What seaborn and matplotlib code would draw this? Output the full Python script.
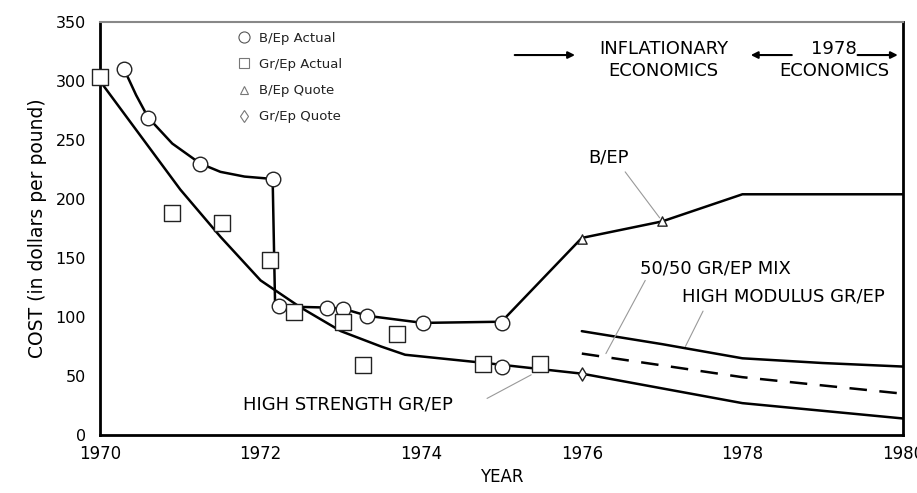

# Cost of boron/epoxy vs graphite/epoxy, 1970-1980

import numpy as np
import pandas as pd
import matplotlib
matplotlib.use("Agg")
import matplotlib.pyplot as plt
from matplotlib.lines import Line2D
import seaborn as sns

# ---- data ----
# B/Ep actual (circles)
bep_act_x = [1970.3, 1970.6, 1971.25, 1972.15, 1972.23, 1972.83, 1973.03, 1973.33, 1974.02, 1975.0, 1975.0]
bep_act_y = [310, 269, 230, 217, 109, 108, 107, 101, 95, 95, 58]
# Gr/Ep actual (squares)
grep_act_x = [1970.0, 1970.9, 1971.52, 1972.12, 1972.41, 1973.03, 1973.28, 1973.7, 1974.77, 1975.48]
grep_act_y = [303, 188, 180, 148, 104, 96, 59, 86, 60, 60]
# quotes
bep_quote_x = [1976.0, 1977.0]
bep_quote_y = [166, 181]
grep_quote_x = [1976.0]
grep_quote_y = [52]

# trend lines
bep_line_x = [1970.3, 1970.45, 1970.6, 1970.9, 1971.25, 1971.5, 1971.8, 1972.15, 1972.18, 1972.23,
              1972.83, 1973.03, 1973.33, 1974.02, 1975.0, 1976.0, 1977.0, 1978.0, 1980.0]
bep_line_y = [310, 288, 269, 247, 230, 223, 219, 217, 112, 109,
              108, 107, 101, 95, 96, 167, 181, 204, 204]
hs_line_x = [1970.0, 1970.5, 1971.0, 1971.5, 1972.0, 1972.5, 1973.0, 1973.5, 1973.8, 1974.8, 1976.0, 1978.0, 1980.0]
hs_line_y = [300, 254, 208, 168, 131, 108, 88, 75, 68, 61, 52, 27, 14]
hm_line_x = [1976.0, 1977.0, 1978.0, 1979.0, 1980.0]
hm_line_y = [88, 77, 65, 61, 58]
mix_line_x = [1976.0, 1977.0, 1978.0, 1979.0, 1980.0]
mix_line_y = [69, 59, 49, 42, 35]

legend_labels = ["B/Ep Actual", "Gr/Ep Actual", "B/Ep Quote", "Gr/Ep Quote"]

# ---- plot ----
sns.set_theme(style="white")
plt.rcParams["font.family"] = ["DejaVu Sans"]
plt.rcParams["text.color"] = "black"
plt.rcParams["axes.labelcolor"] = "black"

fig = plt.figure(figsize=(9.17, 4.93), dpi=100)
ax = fig.add_axes([100 / 917, 58 / 493, 803 / 917, 413 / 493])

lw = 1.8
sns.lineplot(x=bep_line_x, y=bep_line_y, sort=False, estimator=None, color="black", lw=lw, ax=ax)
sns.lineplot(x=hs_line_x, y=hs_line_y, sort=False, estimator=None, color="black", lw=lw, ax=ax)
sns.lineplot(x=hm_line_x, y=hm_line_y, sort=False, estimator=None, color="black", lw=lw, ax=ax)
ax.plot(mix_line_x, mix_line_y, color="black", lw=lw, dashes=(7, 5))

mk = dict(facecolor="white", edgecolor="#222222", linewidth=1.0, zorder=5, clip_on=False)
sns.scatterplot(x=bep_act_x, y=bep_act_y, marker="o", s=110, ax=ax, **mk)
sns.scatterplot(x=grep_act_x, y=grep_act_y, marker="s", s=130, ax=ax, **mk)
sns.scatterplot(x=bep_quote_x, y=bep_quote_y, marker="^", s=45, ax=ax, **mk)
sns.scatterplot(x=grep_quote_x, y=grep_quote_y, marker="d", s=45, ax=ax, **mk)

ax.set_xlim(1970, 1980)
ax.set_ylim(0, 350)
ax.set_xticks(range(1970, 1981, 2))
ax.set_yticks(range(0, 351, 50))
ax.tick_params(direction="in", length=5, width=1.2, colors="black", labelsize=12)
ax.tick_params(axis="x", pad=7)
ax.tick_params(axis="y", pad=10, labelsize=11.5)
ax.set_xlabel("YEAR", fontsize=12, labelpad=4)
ax.set_ylabel("COST (in dollars per pound)", fontsize=13.5, labelpad=6)
for side in ["left", "bottom", "right"]:
    ax.spines[side].set_color("black")
    ax.spines[side].set_linewidth(2)
ax.spines["top"].set_color("#888888")
ax.spines["top"].set_linewidth(1.5)

# legend
handles = [
    Line2D([], [], ls="", marker="o", ms=8, mfc="white", mec="#555555", mew=0.8),
    Line2D([], [], ls="", marker="s", ms=7, mfc="white", mec="#777777", mew=0.8),
    Line2D([], [], ls="", marker="^", ms=6, mfc="white", mec="#777777", mew=0.8),
    Line2D([], [], ls="", marker="d", ms=6, mfc="white", mec="#777777", mew=0.8),
]
ax.legend(handles, legend_labels, loc="upper left", bbox_to_anchor=(0.155, 1.005),
          frameon=False, fontsize=9.5, labelspacing=1.0, handletextpad=0.5,
          handlelength=1.2, labelcolor="#222222")

# annotations
fs = 13
ax.text(1976.33, 235, "B/EP", fontsize=fs, ha="center", va="center")
ax.plot([1976.54, 1976.97], [223, 184], color="#999999", lw=0.8)
ax.text(1976.72, 141, "50/50 GR/EP MIX", fontsize=fs, ha="left", va="center")
ax.plot([1976.79, 1976.30], [131, 69], color="#999999", lw=0.8)
ax.text(1977.25, 117, "HIGH MODULUS GR/EP", fontsize=fs, ha="left", va="center")
ax.plot([1977.51, 1977.29], [105, 75], color="#999999", lw=0.8)
ax.text(1971.78, 26, "HIGH STRENGTH GR/EP", fontsize=fs, ha="left", va="center")
ax.plot([1974.82, 1975.37], [31, 51], color="#999999", lw=0.8)

ax.text(1977.02, 318, "INFLATIONARY\nECONOMICS", fontsize=fs, ha="center", va="center",
        linespacing=1.3)
ax.text(1979.14, 318, "1978\nECONOMICS", fontsize=fs, ha="center", va="center",
        linespacing=1.3)
arr = dict(arrowstyle="-|>", color="black", lw=1.5, mutation_scale=10)
ax.annotate("", xy=(1975.95, 322), xytext=(1975.13, 322), arrowprops=arr)
ax.annotate("", xy=(1978.07, 322), xytext=(1978.65, 322), arrowprops=arr)
ax.annotate("", xy=(1979.97, 322), xytext=(1979.4, 322), arrowprops=arr)

fig.savefig("out.png", dpi=100)
